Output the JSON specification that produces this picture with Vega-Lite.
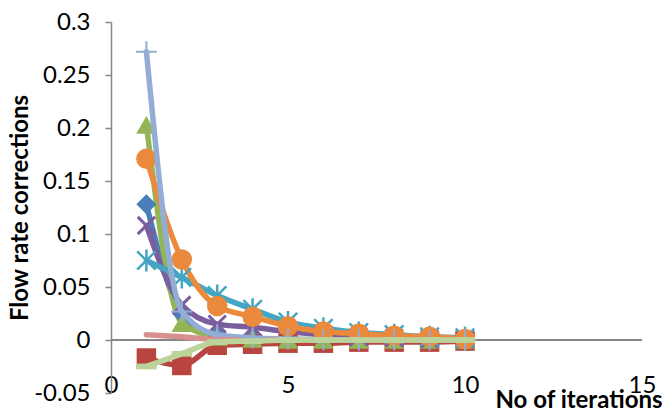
{
  "$schema": "https://vega.github.io/schema/vega-lite/v6.json",
  "width": 531,
  "height": 371,
  "autosize": {"type": "none"},
  "padding": {"left": 111, "top": 22, "right": 20, "bottom": 19},
  "background": "white",
  "config": {
    "view": {"stroke": null},
    "font": "Lato"
  },
  "data": {
    "values": [
      {"series": "S1", "iter": 1, "corr": 0.128}, {"series": "S1", "iter": 2, "corr": 0.025}, {"series": "S1", "iter": 3, "corr": 0.004}, {"series": "S1", "iter": 4, "corr": 0.001}, {"series": "S1", "iter": 5, "corr": 0.0005}, {"series": "S1", "iter": 6, "corr": 0.0002}, {"series": "S1", "iter": 7, "corr": 0.0001}, {"series": "S1", "iter": 8, "corr": 0}, {"series": "S1", "iter": 9, "corr": 0}, {"series": "S1", "iter": 10, "corr": 0},
      {"series": "S2", "iter": 1, "corr": -0.017}, {"series": "S2", "iter": 2, "corr": -0.024}, {"series": "S2", "iter": 3, "corr": -0.005}, {"series": "S2", "iter": 4, "corr": -0.004}, {"series": "S2", "iter": 5, "corr": -0.003}, {"series": "S2", "iter": 6, "corr": -0.003}, {"series": "S2", "iter": 7, "corr": -0.002}, {"series": "S2", "iter": 8, "corr": -0.002}, {"series": "S2", "iter": 9, "corr": -0.002}, {"series": "S2", "iter": 10, "corr": -0.001},
      {"series": "S3", "iter": 1, "corr": 0.203}, {"series": "S3", "iter": 2, "corr": 0.016}, {"series": "S3", "iter": 3, "corr": 0.003}, {"series": "S3", "iter": 4, "corr": 0.001}, {"series": "S3", "iter": 5, "corr": 0}, {"series": "S3", "iter": 6, "corr": 0}, {"series": "S3", "iter": 7, "corr": 0}, {"series": "S3", "iter": 8, "corr": 0}, {"series": "S3", "iter": 9, "corr": 0}, {"series": "S3", "iter": 10, "corr": 0},
      {"series": "S4", "iter": 1, "corr": 0.108}, {"series": "S4", "iter": 2, "corr": 0.033}, {"series": "S4", "iter": 3, "corr": 0.015}, {"series": "S4", "iter": 4, "corr": 0.012}, {"series": "S4", "iter": 5, "corr": 0.008}, {"series": "S4", "iter": 6, "corr": 0.005}, {"series": "S4", "iter": 7, "corr": 0.003}, {"series": "S4", "iter": 8, "corr": 0.002}, {"series": "S4", "iter": 9, "corr": 0.001}, {"series": "S4", "iter": 10, "corr": 0.001},
      {"series": "S5", "iter": 1, "corr": 0.075}, {"series": "S5", "iter": 2, "corr": 0.059}, {"series": "S5", "iter": 3, "corr": 0.042}, {"series": "S5", "iter": 4, "corr": 0.029}, {"series": "S5", "iter": 5, "corr": 0.017}, {"series": "S5", "iter": 6, "corr": 0.011}, {"series": "S5", "iter": 7, "corr": 0.007}, {"series": "S5", "iter": 8, "corr": 0.005}, {"series": "S5", "iter": 9, "corr": 0.003}, {"series": "S5", "iter": 10, "corr": 0.002},
      {"series": "S6", "iter": 1, "corr": 0.171}, {"series": "S6", "iter": 2, "corr": 0.076}, {"series": "S6", "iter": 3, "corr": 0.032}, {"series": "S6", "iter": 4, "corr": 0.022}, {"series": "S6", "iter": 5, "corr": 0.013}, {"series": "S6", "iter": 6, "corr": 0.008}, {"series": "S6", "iter": 7, "corr": 0.006}, {"series": "S6", "iter": 8, "corr": 0.004}, {"series": "S6", "iter": 9, "corr": 0.003}, {"series": "S6", "iter": 10, "corr": 0.001},
      {"series": "S7", "iter": 1, "corr": 0.272}, {"series": "S7", "iter": 2, "corr": 0.027}, {"series": "S7", "iter": 3, "corr": 0.005}, {"series": "S7", "iter": 4, "corr": 0.002}, {"series": "S7", "iter": 5, "corr": 0.001}, {"series": "S7", "iter": 6, "corr": 0}, {"series": "S7", "iter": 7, "corr": 0}, {"series": "S7", "iter": 8, "corr": 0}, {"series": "S7", "iter": 9, "corr": 0}, {"series": "S7", "iter": 10, "corr": 0},
      {"series": "S8", "iter": 1, "corr": 0.005}, {"series": "S8", "iter": 2, "corr": 0.003}, {"series": "S8", "iter": 3, "corr": 0.0005}, {"series": "S8", "iter": 4, "corr": 0}, {"series": "S8", "iter": 5, "corr": 0}, {"series": "S8", "iter": 6, "corr": 0}, {"series": "S8", "iter": 7, "corr": 0}, {"series": "S8", "iter": 8, "corr": 0}, {"series": "S8", "iter": 9, "corr": 0}, {"series": "S8", "iter": 10, "corr": 0},
      {"series": "S9", "iter": 1, "corr": -0.025}, {"series": "S9", "iter": 2, "corr": -0.013}, {"series": "S9", "iter": 3, "corr": -0.002}, {"series": "S9", "iter": 4, "corr": -0.001}, {"series": "S9", "iter": 5, "corr": 0}, {"series": "S9", "iter": 6, "corr": 0}, {"series": "S9", "iter": 7, "corr": 0}, {"series": "S9", "iter": 8, "corr": 0}, {"series": "S9", "iter": 9, "corr": 0}, {"series": "S9", "iter": 10, "corr": 0}
    ]
  },
  "encoding": {
    "x": {
      "field": "iter",
      "type": "quantitative",
      "scale": {"domain": [0, 15], "nice": false, "zero": false},
      "axis": {
        "values": [0, 5, 10, 15],
        "offset": -20,
        "domain": false,
        "ticks": false,
        "grid": false,
        "labelFontSize": 24,
        "labelColor": "#000000",
        "labelPadding": 0,
        "labelFlush": false,
        "title": "No of iterations",
        "titleFontSize": 24,
        "titleFontWeight": "bold",
        "titleColor": "#000000",
        "titleAlign": "right",
        "titleAnchor": null,
        "titleBaseline": "alphabetic",
        "titleX": 551,
        "titleY": 34
      }
    },
    "y": {
      "field": "corr",
      "type": "quantitative",
      "scale": {"domain": [-0.05, 0.3], "nice": false, "zero": false},
      "axis": {
        "values": [-0.05, 0, 0.05, 0.1, 0.15, 0.2, 0.25, 0.3],
        "labelExpr": "'' + datum.value",
        "grid": false,
        "domainColor": "#868686",
        "domainWidth": 1.5,
        "tickColor": "#868686",
        "tickWidth": 1.5,
        "tickSize": 6,
        "labelPadding": 15,
        "labelFontSize": 24,
        "labelColor": "#000000",
        "labelFlush": false,
        "title": "Flow rate corrections",
        "titleFontSize": 24,
        "titleFontWeight": "bold",
        "titleColor": "#000000",
        "titleBaseline": "middle",
        "titleX": -91
      }
    },
    "color": {
      "field": "series",
      "type": "nominal",
      "legend": null,
      "scale": {
        "domain": ["S1", "S2", "S3", "S4", "S5", "S6", "S7", "S8", "S9"],
        "range": ["#4A7DBA", "#B8453F", "#93B556", "#7B5E9E", "#44A6C2", "#EB8A3C", "#93ADD5", "#D8908E", "#BCD39A"]
      }
    }
  },
  "layer": [
    {
      "mark": {"type": "rule", "color": "#868686", "strokeWidth": 1.5},
      "encoding": {"y": {"datum": 0}, "x": {"datum": 0}, "x2": {"datum": 15}, "color": {"value": "#868686"}}
    },
    {
      "transform": [{"filter": "indexof(['S1','S2','S3','S4','S5','S6'], datum.series) >= 0"}],
      "mark": {"type": "line", "interpolate": "monotone", "strokeWidth": 5.5, "strokeCap": "round"},
      "encoding": {"order": {"field": "iter"}}
    },
    {
      "transform": [{"filter": "datum.series === 'S1'"}],
      "mark": {"type": "point", "shape": "diamond", "filled": true, "size": 400, "opacity": 1}
    },
    {
      "transform": [{"filter": "datum.series === 'S2'"}],
      "mark": {"type": "point", "shape": "square", "filled": true, "size": 380, "opacity": 1}
    },
    {
      "transform": [{"filter": "datum.series === 'S3'"}],
      "mark": {"type": "point", "shape": "triangle-up", "filled": true, "size": 420, "opacity": 1}
    },
    {
      "transform": [{"filter": "datum.series === 'S4'"}],
      "mark": {"type": "point", "shape": "M-1,-1L1,1M-1,1L1,-1", "filled": false, "size": 300, "strokeWidth": 3, "opacity": 1}
    },
    {
      "transform": [{"filter": "datum.series === 'S5'"}],
      "mark": {"type": "point", "shape": "M-1,-1L1,1M-1,1L1,-1M0,-1.2L0,1.2", "filled": false, "size": 340, "strokeWidth": 2.5, "opacity": 1}
    },
    {
      "transform": [{"filter": "datum.series === 'S6'"}],
      "mark": {"type": "point", "shape": "circle", "filled": true, "size": 420, "opacity": 1}
    },
    {
      "transform": [{"filter": "indexof(['S7','S8','S9'], datum.series) >= 0"}],
      "mark": {"type": "line", "interpolate": "monotone", "strokeWidth": 5.5, "strokeCap": "round"},
      "encoding": {"order": {"field": "iter"}}
    },
    {
      "transform": [{"filter": "datum.series === 'S7'"}],
      "mark": {"type": "point", "shape": "M-1,0L1,0M0,-1L0,1", "filled": false, "size": 440, "strokeWidth": 2, "opacity": 1}
    },
    {
      "transform": [{"filter": "datum.series === 'S9'"}],
      "mark": {"type": "point", "shape": "M-1,-0.28L1,-0.28L1,0.28L-1,0.28Z", "filled": true, "size": 420, "opacity": 1}
    }
  ]
}
